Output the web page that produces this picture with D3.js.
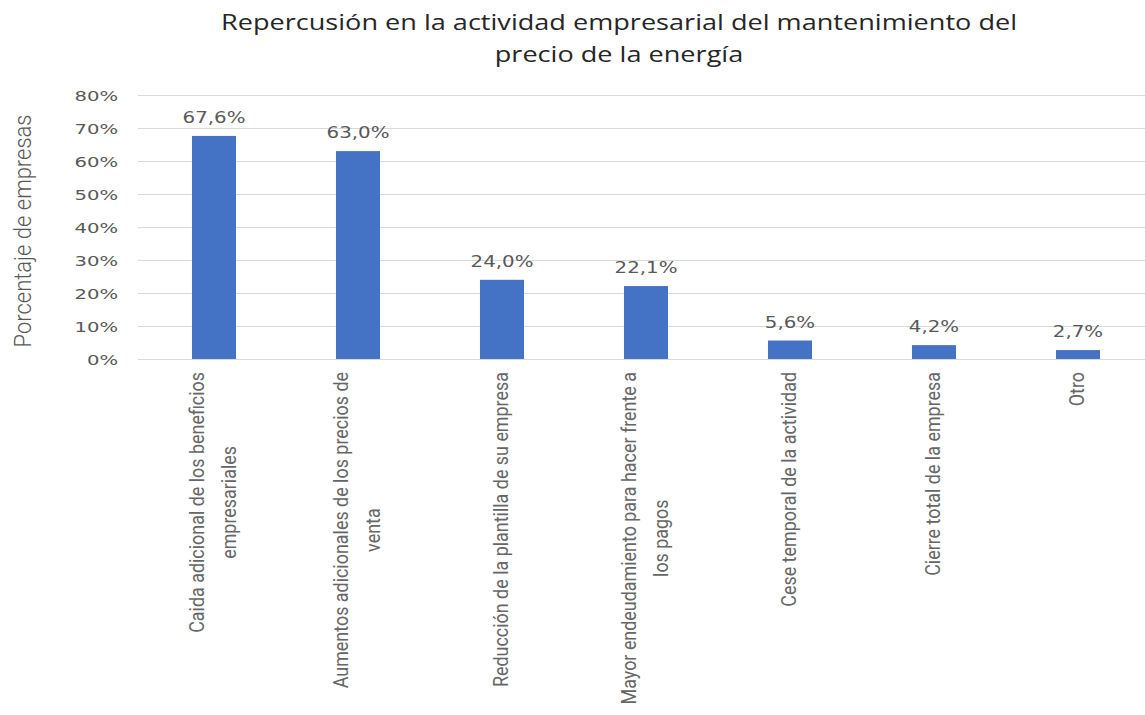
<!DOCTYPE html>
<html>
<head>
<meta charset="utf-8">
<script src="https://cdn.jsdelivr.net/npm/d3@7"></script>
<style>
  body { margin: 0; background: #fff; }
  svg { display: block; }
</style>
</head>
<body>
<div id="chart"></div>
<script>
// chart data
let titleLines = ["Repercusión en la actividad empresarial del mantenimiento del", "precio de la energía"];
let yTitle = "Porcentaje de empresas";
let categories = [
    ["Caida adicional de los beneficios", "empresariales"],
    ["Aumentos adicionales de los precios de", "venta"],
    ["Reducción de la plantilla de su empresa"],
    ["Mayor endeudamiento para hacer frente a", "los pagos"],
    ["Cese temporal de la actividad"],
    ["Cierre total de la empresa"],
    ["Otro"]
];
let values = [67.6, 63.0, 24.0, 22.1, 5.6, 4.2, 2.7];
let yTicks = [0, 10, 20, 30, 40, 50, 60, 70, 80];

let W = 1145, H = 715;
let margin = {top: 95, right: -5, bottom: 356, left: 142};

let svg = d3.select("#chart")
            .append("svg")
            .attr("width", W)
            .attr("height", H);

// stretch text horizontally like the source picture
function stretch(sel, k) {
    sel.each(function() {
        let len = this.getComputedTextLength();
        this.__natural = len;
        d3.select(this).attr("textLength", len * k).attr("lengthAdjust", "spacingAndGlyphs");
    });
}

let keys = categories.map(function(d, i) { return "c" + i; });

let x = d3.scaleBand()
          .domain(keys)
          .range([margin.left, W - margin.right])
          .paddingInner(0.694)
          .paddingOuter(0.347);

let y = d3.scaleLinear()
          .domain([0, 80])
          .range([H - margin.bottom, margin.top]);

// gridlines
svg.append("g")
   .selectAll("line")
   .data(yTicks)
   .enter()
   .append("line")
   .attr("x1", 138)
   .attr("x2", W - margin.right)
   .attr("y1", function(d) { return Math.round(y(d)) + 0.5; })
   .attr("y2", function(d) { return Math.round(y(d)) + 0.5; })
   .attr("stroke", "#d9d9d9")
   .attr("stroke-width", 1.2);

// y axis labels
let yAxis = svg.append("g")
               .attr("transform", "translate(118,0)")
               .call(d3.axisLeft(y).tickValues(yTicks).tickSize(0).tickPadding(0)
                       .tickFormat(function(d) { return d + "%"; }));
yAxis.select(".domain").remove();
yAxis.selectAll("text")
     .attr("font-family", "DejaVu Sans")
     .attr("font-size", 14)
     .attr("fill", "#595959")
     .attr("dy", "0.36em")
     .call(stretch, 1.4);

// bars
svg.append("g")
   .selectAll("rect")
   .data(values)
   .enter()
   .append("rect")
   .attr("x", function(d, i) { return x(keys[i]); })
   .attr("y", function(d) { return y(d); })
   .attr("width", x.bandwidth())
   .attr("height", function(d) { return y(0) - y(d); })
   .attr("fill", "#4472c4");

// value labels
svg.append("g")
   .selectAll("text")
   .data(values)
   .enter()
   .append("text")
   .attr("x", function(d, i) { return x(keys[i]) + x.bandwidth() / 2; })
   .attr("y", function(d) { return y(d) - 13; })
   .attr("text-anchor", "middle")
   .attr("font-family", "DejaVu Sans")
   .attr("font-size", 15)
   .attr("fill", "#595959")
   .text(function(d) { return d.toFixed(1).replace(".", ",") + "%"; })
   .call(stretch, 1.32);

// category labels (rotated, lines centred on the longest one)
let catFont = 20, lineGap = 32, topY = 372;
let catG = svg.append("g");
// squeeze factor so the longest single line is ~315px like the source
let probe = catG.append("text").attr("font-family", "Roboto").attr("font-size", catFont)
                .text(categories[2][0]);
let catK = 315 / probe.node().getComputedTextLength();
probe.remove();

categories.forEach(function(lines, i) {
    let cx = x(keys[i]) + x.bandwidth() / 2;
    let g = catG.append("g");
    let texts = g.selectAll("text")
                 .data(lines)
                 .enter()
                 .append("text")
                 .attr("font-family", "Roboto")
                 .attr("font-size", catFont)
                 .attr("fill", "#666666")
                 .attr("text-anchor", "middle")
                 .text(function(d) { return d; });
    texts.call(stretch, catK);
    let maxLen = d3.max(texts.nodes(), function(n) { return n.__natural * catK; });
    let cy = topY + maxLen / 2;
    texts.attr("transform", function(d, j) {
        let bx = cx + catFont * 0.3 + (j - (lines.length - 1) / 2) * lineGap;
        return "translate(" + bx + "," + cy + ") rotate(-90)";
    });
});

// y axis title
svg.append("text")
   .attr("transform", "translate(31,231) rotate(-90)")
   .attr("text-anchor", "middle")
   .attr("font-family", "Roboto")
   .attr("font-weight", 300)
   .attr("font-size", 23)
   .attr("fill", "#595959")
   .text(yTitle)
   .attr("textLength", 233)
   .attr("lengthAdjust", "spacingAndGlyphs");

// title
svg.append("g")
   .selectAll("text")
   .data(titleLines)
   .enter()
   .append("text")
   .attr("x", 619)
   .attr("y", function(d, i) { return 30 + i * 32; })
   .attr("text-anchor", "middle")
   .attr("font-family", "Open Sans")
   .attr("font-size", 21)
   .attr("fill", "#262626")
   .text(function(d) { return d; })
   .call(stretch, 1.29);
</script>
</body>
</html>
